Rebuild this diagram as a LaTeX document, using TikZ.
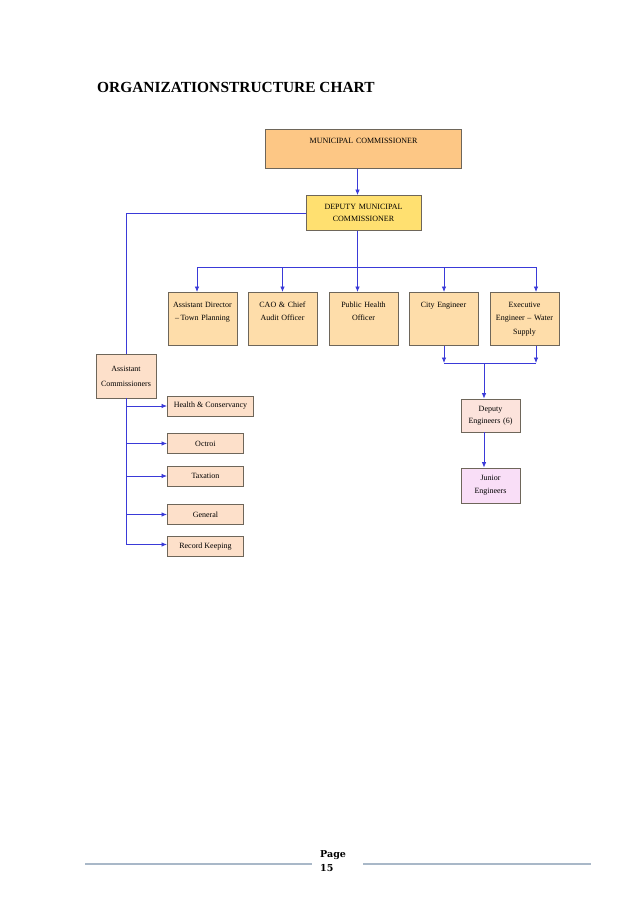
\documentclass[tikz,border=0pt]{standalone}
\usepackage{fontspec}
\setmainfont{Liberation Serif}
\newfontfamily\footfont{DejaVu Serif}
\usetikzlibrary{arrows.meta}

\definecolor{mcfill}{HTML}{FDC785}
\definecolor{dmcfill}{HTML}{FFE070}
\definecolor{deptfill}{HTML}{FEDDAA}
\definecolor{acfill}{HTML}{FDE0CA}
\definecolor{defill}{HTML}{FCE3DC}
\definecolor{jefill}{HTML}{F9DEF7}
\definecolor{boxline}{HTML}{6E665A}
\definecolor{linkblue}{HTML}{3A3AD8}
\definecolor{rulegray}{HTML}{A9B8C8}

\begin{document}
\begin{tikzpicture}[x=1pt,y=-1pt]
    \tikzstyle{box}=[draw=boxline, line width=0.9pt, align=center, inner sep=3pt,
                     font=\fontsize{8}{13}\selectfont]
    \tikzstyle{dept}=[box, fill=deptfill, anchor=north, text width=63pt,
                      text height=12pt, text depth=35pt,
                      font=\fontsize{8}{13.5}\selectfont]
    \tikzstyle{section}=[box, fill=acfill, anchor=west, minimum height=20pt]
    \tikzstyle{link}=[draw=linkblue, line width=0.8pt]
    \tikzstyle{arr}=[link, -{Latex[length=5.5pt,width=4.6pt]}]
    \useasboundingbox (0,0) rectangle (638,902);

    % title
    \node[anchor=base west, inner sep=0pt, font=\fontsize{15.4}{17}\selectfont\bfseries]
        (title) at (97,92) {{\spaceskip=0.5pt ORGANIZATION STRUCTURE} CHART};

    % top of the chart
    \node[box, fill=mcfill, anchor=north, text width=190pt, text height=11pt, text depth=22pt]
        (mc) at (363.5,129) {MUNICIPAL COMMISSIONER};
    \node[box, fill=dmcfill, minimum width=115pt, minimum height=35pt, text width=109pt,
          font=\fontsize{8}{12}\selectfont]
        (dmc) at (363.5,213) {DEPUTY MUNICIPAL\\COMMISSIONER};

    % departments
    \node[dept] (ad) at (202.5,292) {Assistant Director\\\textendash\,Town Planning};
    \node[dept] (cao) at (282.5,292) {CAO \& Chief\\Audit Officer};
    \node[dept] (ph) at (363.5,292) {Public Health\\Officer};
    \node[dept] (ce) at (443.5,292) {City Engineer};
    \node[dept] (ex) at (524.5,292) {Executive\\Engineer \textendash\ Water\\Supply};

    % engineers
    \node[box, fill=defill, minimum width=57pt, minimum height=33pt, text width=53pt,
          font=\fontsize{8}{12}\selectfont]
        (de) at (490.5,415.5) {Deputy\\Engineers (6)};
    \node[box, fill=jefill, minimum width=57pt, minimum height=35pt, text width=53pt]
        (je) at (490.5,485.5) {Junior\\Engineers};

    % assistant commissioners and sections
    \node[box, fill=acfill, minimum width=58pt, minimum height=44pt, text width=54pt,
          font=\fontsize{8}{15}\selectfont]
        (ac) at (126,376) {Assistant\\Commissioners};
    \node[section, minimum width=86pt] (hc) at (167,406) {Health \& Conservancy};
    \node[section, minimum width=76pt] (oc) at (167,443.5) {Octroi};
    \node[section, minimum width=76pt] (tx) at (167,476) {Taxation};
    \node[section, minimum width=76pt] (gn) at (167,514.5) {General};
    \node[section, minimum width=76pt] (rk) at (167,546.5) {Record Keeping};

    % junction points
    \coordinate (trunk) at (357.5,267);
    \coordinate (busl) at (197,267);
    \coordinate (busr) at (536,267);
    \coordinate (joinl) at (444,363);
    \coordinate (joinr) at (536,363);
    \coordinate (joinm) at (484,363);

    % connectors
    \draw[arr] (mc.south -| trunk) -- (dmc.north -| trunk);
    \draw[link] (dmc.south -| trunk) -- (trunk);
    \draw[link] (busl) -- (busr);
    \draw[arr] (busl) -- (ad.north -| busl);
    \draw[arr] (cao.north |- trunk) -- (cao.north);
    \draw[arr] (trunk) -- (ph.north -| trunk);
    \draw[arr] (joinl |- trunk) -- (ce.north -| joinl);
    \draw[arr] (busr) -- (ex.north -| busr);
    \draw[arr] (ce.south -| joinl) -- (joinl);
    \draw[arr] (ex.south -| joinr) -- (joinr);
    \draw[link] (joinl) -- (joinr);
    \draw[arr] (joinm) -- (de.north -| joinm);
    \draw[arr] (de.south -| joinm) -- (je.north -| joinm);
    \draw[link] (dmc.west) -| (ac.north);
    \draw[link] (ac.south) -- ([yshift=2pt]ac.south |- rk.west);
    \foreach \s in {hc,oc,tx,gn}
        \draw[arr] (ac.south |- \s.west) -- (\s.west);
    \draw[arr] ([yshift=2pt]ac.south |- rk.west) -- ([yshift=2pt]rk.west);

    % page footer
    \coordinate (footl) at (85,864);
    \coordinate (footr) at (591,864);
    \node[anchor=north west, inner sep=0pt, align=left,
          font=\footfont\fontsize{9.5}{14}\selectfont\bfseries]
        (page) at (320,850) {Page\\15};
    \draw[rulegray, line width=1.2pt] (footl) -- (312,864);
    \draw[rulegray, line width=1.2pt] (363,864) -- (footr);
\end{tikzpicture}
\end{document}
